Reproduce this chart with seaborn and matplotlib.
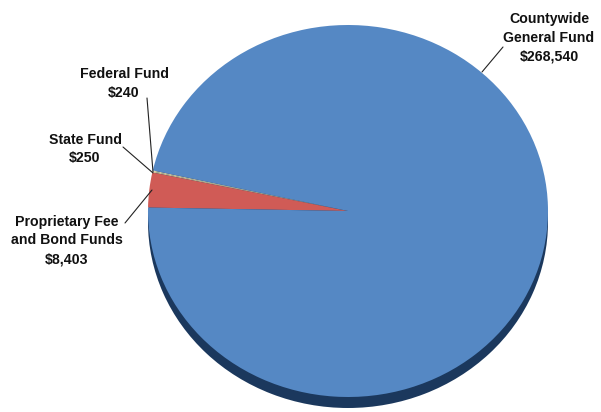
import matplotlib
matplotlib.use("Agg")
import matplotlib.pyplot as plt
import seaborn as sns

# Fund sources (dollars, thousands)
funds = ["Federal Fund", "State Fund", "Proprietary Fee\nand Bond Funds", "Countywide\nGeneral Fund"]
amounts = [240, 250, 8403, 268540]
amount_labels = ["$240", "$250", "$8,403", "$268,540"]
colors = ["#e2cfa6", "#c9c99a", "#d05b56", "#5588c4"]

sns.set_theme(style="white")
plt.rcParams["font.family"] = ["Liberation Sans", "DejaVu Sans"]

W, H = 601, 412
fig = plt.figure(figsize=(W / 100, H / 100), dpi=100)
ax = fig.add_axes([0, 0, 1, 1])

# pie outline in pixels: centre (348, 211), half-width 200, half-height 186
cx, cy, rx, ry = 348, 211, 200, 186
ax.axis("off")

# dark base giving the disc some thickness
ax.pie([sum(amounts)], colors=["#1b385d"], radius=1.0, center=(0, -11 / ry),
       wedgeprops=dict(linewidth=0))
# top face
ax.pie(amounts, colors=colors, radius=1.0, center=(0, 0), startangle=167.4,
       counterclock=True, wedgeprops=dict(linewidth=0))
ax.set_xlim(-cx / rx, (W - cx) / rx)
ax.set_ylim(-(H - cy) / ry, cy / ry)
ax.set_aspect("auto")

# label placement (figure pixels, y from top) and leader-line endpoints
label_pos = [(124, 83.5), (85, 149), (67, 240.5), (549, 38)]
leader_from = [(147, 98), (123, 147), (125, 223), (503, 47)]
leader_to = [(153, 172), (153, 173), (152, 190), (482, 72)]

for name, amt, (tx, ty), (x0, y0), (x1, y1) in zip(funds, amount_labels, label_pos, leader_from, leader_to):
    fig.text(tx / W, 1 - ty / H, f"{name}\n{amt}", ha="center", va="center",
             fontsize=10.2, fontweight="bold", color="#111111", linespacing=1.45)
    ax.annotate("", xy=(x1, H - y1), xycoords="figure pixels",
                xytext=(x0, H - y0), textcoords="figure pixels",
                arrowprops=dict(arrowstyle="-", color="#222222", lw=0.8,
                                shrinkA=0, shrinkB=0))

fig.savefig("out.png", dpi=100)
